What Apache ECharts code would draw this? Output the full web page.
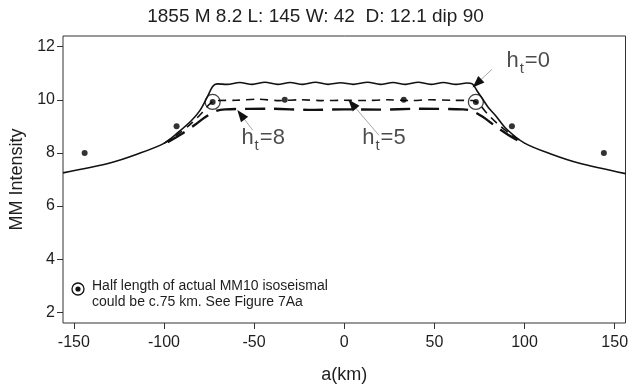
<!DOCTYPE html>
<html>
<head>
<meta charset="utf-8">
<script src="https://cdn.jsdelivr.net/npm/echarts@6/dist/echarts.min.js"></script>
<style>
  html, body { margin: 0; padding: 0; background: #fff; }
  #chart { width: 631px; height: 389px; }
</style>
</head>
<body>
<div id="chart"></div>
<script>
// ---------- data ----------
const titleText = '1855 M 8.2 L: 145 W: 42  D: 12.1 dip 90';
const xTicks = [-150, -100, -50, 0, 50, 100, 150];
const yTicks = [2, 4, 6, 8, 10, 12];

// h_t = 0 (solid)
const ht0 = [
  [-156, 7.25], [-130, 7.62], [-115, 7.95], [-100, 8.36], [-92, 8.78], [-85, 9.2],
  [-80, 9.6], [-76, 10.1], [-73, 10.5], [-70.5, 10.6],
  [-65, 10.58], [-58, 10.65], [-51, 10.58], [-44, 10.66], [-37, 10.58], [-30, 10.65],
  [-23, 10.58], [-16, 10.66], [-9, 10.58], [-2, 10.64], [5, 10.58], [13, 10.66],
  [20, 10.58], [27, 10.65], [34, 10.58], [41, 10.66], [48, 10.58], [55, 10.65],
  [62, 10.58], [68, 10.63], [71, 10.6],
  [74, 10.3], [77, 10.0], [80, 9.7], [84, 9.4], [90, 8.9], [100, 8.37],
  [115, 7.95], [130, 7.62], [156, 7.22]
];
// h_t = 5 (short dashes)
const ht5 = [
  [-100, 8.36], [-92, 8.72], [-85, 9.1], [-79, 9.5], [-75, 9.82], [-71, 9.97],
  [-60, 9.98], [-48, 10.02], [-36, 9.97], [-24, 10.0], [-12, 9.97], [0, 9.98],
  [12, 9.97], [24, 10.0], [36, 9.97], [48, 10.0], [60, 9.98],
  [71, 9.97], [75, 9.82], [79, 9.5], [85, 9.1], [92, 8.72], [100, 8.36]
];
// h_t = 8 (long dashes)
const ht8 = [
  [-98, 8.4], [-90, 8.72], [-83, 9.05], [-77, 9.35], [-71, 9.58], [-66, 9.64],
  [-40, 9.66], [-20, 9.62], [0, 9.64], [20, 9.63], [40, 9.66], [66, 9.64],
  [71, 9.58], [77, 9.35], [83, 9.05], [90, 8.72], [98, 8.4]
];
// observed intensities
const obsA = [-144, -93, -73, -33, 33, 73, 93, 144];
const obsI = [8, 9, 9.92, 10, 10, 9.92, 9, 8];
// circled observations (half length of MM10 isoseismal)
const circA = [-73, 73];
const circI = [9.92, 9.92];
// curve labels & arrows
const labelA = [102, -45, 22];
const labelI = [11.3, 8.4, 8.4];
const labelSub = ['0', '8', '5'];
const arrowTail = [[82, 11.15], [-50.7, 8.85], [19.3, 8.66]];
const arrowTip = [[73.6, 10.62], [-57.3, 9.44], [4.4, 9.84]];
const legendLines = ['Half length of actual MM10 isoseismal', 'could be c.75 km. See Figure 7Aa'];

// ---------- chart ----------
const FONT = 'Liberation Sans, Arial, sans-serif';
const TXT = '#1e1e1e';
const chart = echarts.init(document.getElementById('chart'), null, { renderer: 'canvas' });

const arrowLines = [];
arrowTail.forEach((t, i) => {
  const h = arrowTip[i];
  arrowLines.push([
    { coord: t, symbol: 'none', lineStyle: { color: '#a8a8a8', width: 1, type: 'solid' } },
    { coord: h, symbol: 'none' }
  ]);
  const s = [h[0] + (t[0] - h[0]) * 0.12, h[1] + (t[1] - h[1]) * 0.12];
  arrowLines.push([
    { coord: s, symbol: 'none', lineStyle: { color: '#111', width: 1, type: 'solid' } },
    { coord: h, symbol: 'triangle', symbolSize: [9, 12] }
  ]);
});

const option = {
  animation: false,
  backgroundColor: '#fff',
  grid: { left: 61, right: 4, top: 36, bottom: 60, show: true, borderColor: '#333', borderWidth: 1, containLabel: false },
  xAxis: {
    type: 'value', min: -156, max: 156,
    name: 'a(km)', nameLocation: 'middle', nameGap: 43,
    nameTextStyle: { fontFamily: FONT, fontSize: 18, color: TXT },
    axisLine: { show: false, onZero: false },
    splitLine: { show: false },
    axisTick: { show: true, inside: false, length: 6, lineStyle: { color: '#333' }, customValues: xTicks },
    axisLabel: { fontFamily: FONT, fontSize: 16, color: TXT, margin: 12, customValues: xTicks }
  },
  yAxis: {
    type: 'value', min: 1.6, max: 12.4,
    name: 'MM Intensity', nameLocation: 'middle', nameGap: 37, nameRotate: 90,
    nameTextStyle: { fontFamily: FONT, fontSize: 18, color: TXT },
    axisLine: { show: false, onZero: false },
    splitLine: { show: false },
    axisTick: { show: true, inside: false, length: 6, lineStyle: { color: '#333' }, customValues: yTicks },
    axisLabel: { fontFamily: FONT, fontSize: 16, color: TXT, margin: 8, customValues: yTicks }
  },
  graphic: [
    { type: 'text', left: 'center', top: 7, style: { text: titleText, font: '19px ' + FONT, fill: TXT } },
    { type: 'circle', shape: { cx: 78, cy: 289, r: 6 }, style: { fill: 'none', stroke: '#111', lineWidth: 1.3 } },
    { type: 'circle', shape: { cx: 78, cy: 289, r: 2.6 }, style: { fill: '#111' } },
    { type: 'text', x: 92, y: 279, style: { text: legendLines[0], font: '14px ' + FONT, fill: TXT } },
    { type: 'text', x: 92, y: 295, style: { text: legendLines[1], font: '14px ' + FONT, fill: TXT } }
  ],
  series: [
    { name: 'ht0', type: 'line', data: ht0, symbol: 'none', smooth: 0.3, lineStyle: { color: '#111', width: 1.6 }, z: 3,
      markLine: { silent: true, animation: false, label: { show: false }, data: arrowLines } },
    { name: 'ht5', type: 'line', data: ht5, symbol: 'none', smooth: 0.3, lineStyle: { color: '#111', width: 1.6, type: [8, 6] }, z: 3 },
    { name: 'ht8', type: 'line', data: ht8, symbol: 'none', smooth: 0.3, lineStyle: { color: '#111', width: 2.4, type: [20, 9] }, z: 3 },
    { name: 'obs', type: 'scatter', data: obsA.map((a, i) => [a, obsI[i]]), symbol: 'circle', symbolSize: 6,
      itemStyle: { color: '#000' }, z: 4 },
    { name: 'circ', type: 'scatter', data: circA.map((a, i) => [a, circI[i]]), symbol: 'circle', symbolSize: 15,
      itemStyle: { color: 'rgba(0,0,0,0)', borderColor: '#111', borderWidth: 1.3 }, z: 4 },
    { name: 'labels', type: 'scatter', data: labelA.map((a, i) => [a, labelI[i], labelSub[i]]), symbolSize: 0, z: 5,
      label: {
        show: true, position: 'inside', fontFamily: FONT,
        formatter: p => '{h|h}{t|t}{h|=' + p.value[2] + '}',
        rich: {
          h: { fontFamily: FONT, fontSize: 22, color: TXT, lineHeight: 24, padding: [0, 0, 8, 0] },
          t: { fontFamily: FONT, fontSize: 15, color: TXT, lineHeight: 24, padding: [8, 1, 0, 1] }
        }
      } }
  ]
};
chart.setOption(option);
</script>
</body>
</html>
